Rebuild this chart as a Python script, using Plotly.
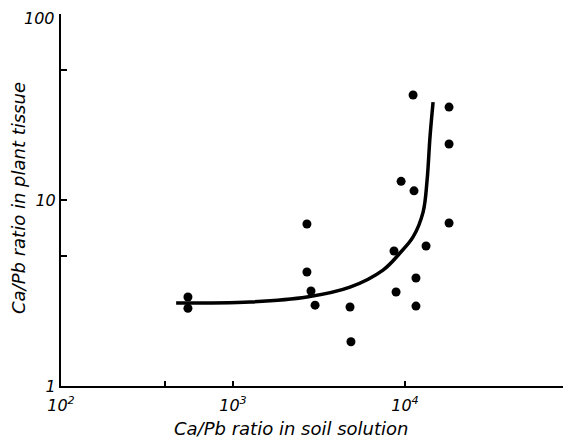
import plotly.graph_objects as go

# Scatter data (Ca/Pb in soil solution, Ca/Pb in plant tissue)
soil_ratio = [547, 547, 2690, 2690, 2840, 3000, 4790, 4850, 8630, 8870,
              9490, 11140, 11280, 11580, 11580, 13250, 18030, 18030, 18030]
plant_ratio = [3.01, 2.62, 7.43, 4.10, 3.24, 2.72, 2.66, 1.73, 5.32, 3.20,
               12.6, 36.7, 11.2, 3.81, 2.69, 5.66, 31.6, 20.0, 7.52]

# Fitted curve
curve_x = [467, 1256, 2690, 4786, 7450, 9350, 11140, 12740, 13440, 13970, 14560]
curve_y = [2.79, 2.83, 3.01, 3.40, 4.20, 5.19, 6.33, 8.61, 12.8, 21.8, 33.6]

x_tickvals = [100, 1000, 10000]
x_ticktext = ["<i>10<sup>2</sup></i>", "<i>10<sup>3</sup></i>", "<i>10<sup>4</sup></i>"]
x_minor = [400]
y_tickvals = [1, 10]
y_ticktext = ["<i>1</i>", "<i>10</i>"]
y_minor = [5, 50, 100]
y_top_value = 100
y_top_label = "<i>100</i>"

FONT = "DejaVu Sans"

# The page body has an 8px margin, so the figure is sized 8px smaller
W, H = 563, 434
L, T, B = 53, 6, 56
PW, PH = W - L, H - T - B

fig = go.Figure()
fig.add_trace(go.Scatter(x=curve_x, y=curve_y, mode="lines",
                         line=dict(color="black", width=3.5, shape="spline"),
                         showlegend=False, hoverinfo="skip"))
fig.add_trace(go.Scatter(x=soil_ratio, y=plant_ratio, mode="markers",
                         marker=dict(color="black", size=9),
                         showlegend=False))

fig.update_xaxes(type="log", range=[2, 4.965], showline=True, linecolor="black",
                 linewidth=2, showgrid=False, zeroline=False, automargin=False,
                 ticks="inside", ticklen=5, tickwidth=1.5, tickcolor="black",
                 tickvals=x_tickvals, ticktext=x_ticktext, ticklabelstandoff=4,
                 minor=dict(tickvals=x_minor, ticks="inside", ticklen=5,
                            tickwidth=1.5, tickcolor="black", showgrid=False),
                 tickfont=dict(family=FONT, size=16, color="black"))
fig.update_yaxes(type="log", range=[0, 2], showline=True, linecolor="black",
                 linewidth=2, showgrid=False, zeroline=False, automargin=False,
                 ticks="inside", ticklen=6, tickwidth=1.5, tickcolor="black",
                 tickvals=y_tickvals, ticktext=y_ticktext,
                 ticklabeloverflow="allow",
                 minor=dict(tickvals=y_minor, ticks="inside", ticklen=6,
                            tickwidth=1.5, tickcolor="black", showgrid=False),
                 tickfont=dict(family=FONT, size=16, color="black"))

# top y label, nudged down so it is not clipped at the page edge
fig.add_annotation(text=y_top_label, xref="paper", yref="y", x=0, y=2,
                   xanchor="right", yanchor="middle", xshift=-4, yshift=-4,
                   showarrow=False, font=dict(family=FONT, size=16, color="black"))

fig.add_annotation(text="<i>Ca/Pb ratio in soil solution</i>", xref="paper", yref="paper",
                   x=(283 - L) / PW, y=-(421 - (T + PH)) / PH, showarrow=False,
                   font=dict(family=FONT, size=18, color="black"),
                   xanchor="center", yanchor="middle")
fig.add_annotation(text="<i>Ca/Pb ratio in plant tissue</i>", xref="paper", yref="paper",
                   x=-(L - 10) / PW, y=((T + PH) - 190) / PH, showarrow=False, textangle=-90,
                   font=dict(family=FONT, size=18, color="black"),
                   xanchor="center", yanchor="middle")

fig.update_layout(width=W, height=H, margin=dict(l=L, r=0, t=T, b=B),
                  plot_bgcolor="white", paper_bgcolor="white",
                  font=dict(family=FONT, color="black"))

fig.write_html("out.html")
